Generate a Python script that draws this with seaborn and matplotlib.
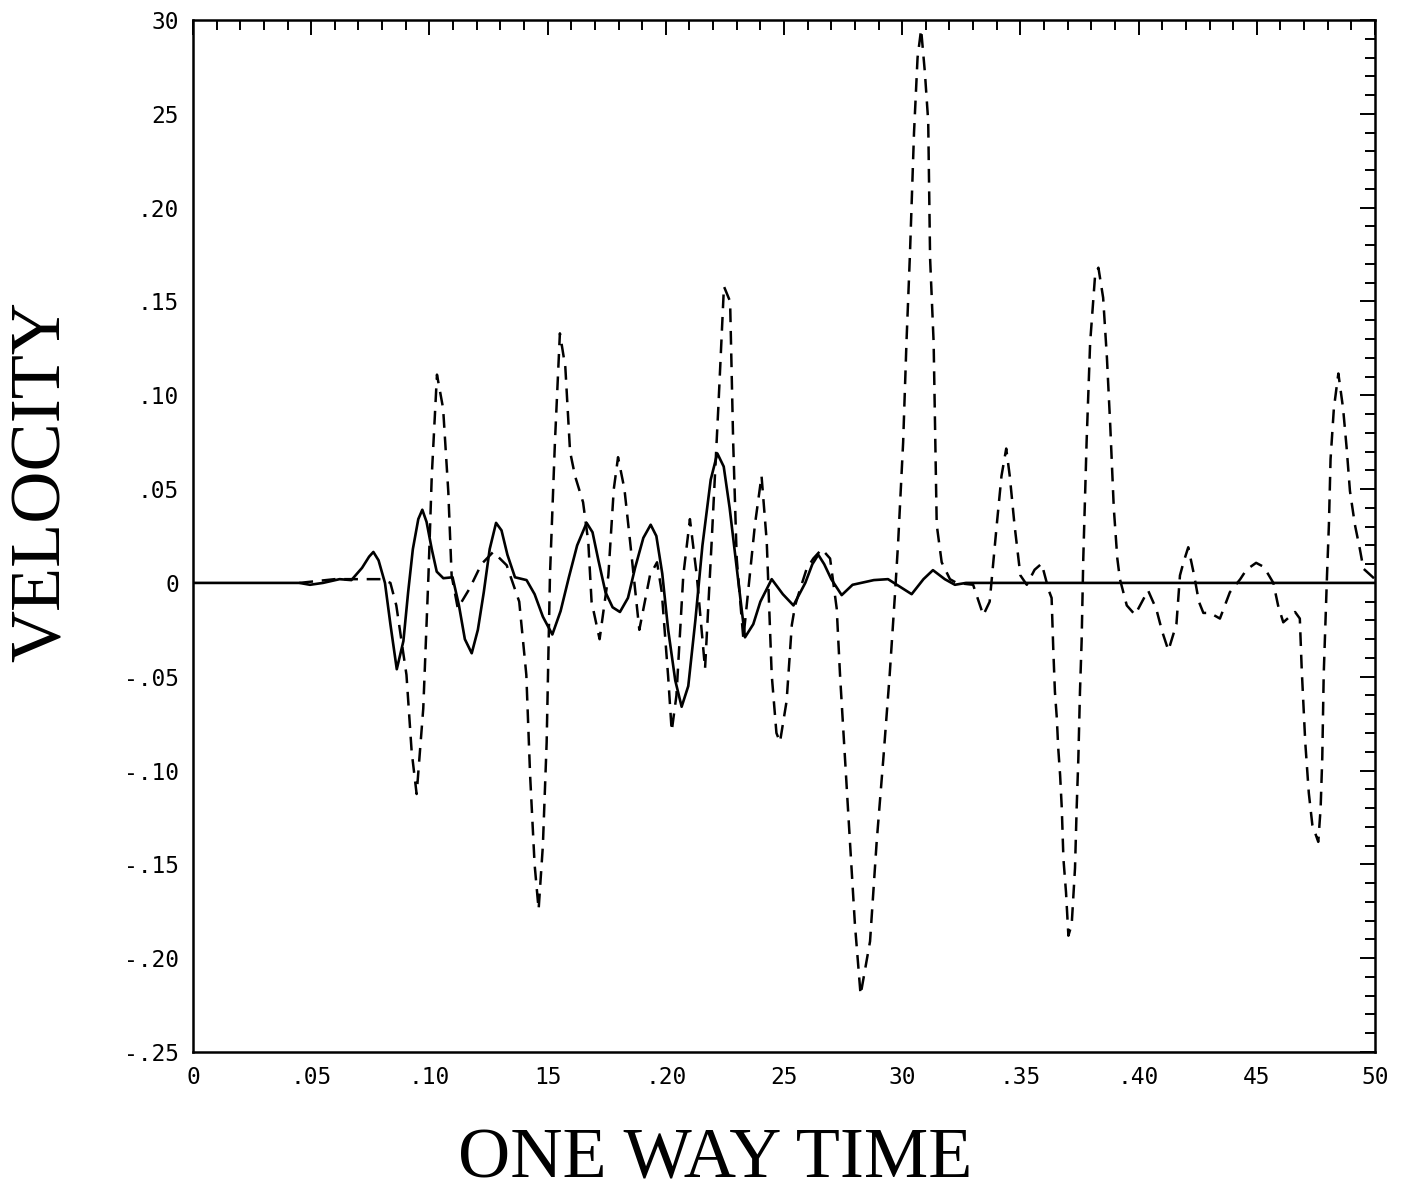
import numpy as np
import pandas as pd
import matplotlib
matplotlib.use("Agg")
import matplotlib.pyplot as plt
from matplotlib.ticker import FixedLocator, MultipleLocator
import seaborn as sns

# ---- data ----
solid_t = [0.0, 0.045, 0.0495, 0.055, 0.062, 0.067, 0.0715, 0.0745, 0.0763, 0.0785,
           0.0812, 0.0835, 0.0862, 0.0890, 0.0910, 0.0930, 0.0953, 0.0970, 0.0988, 0.1010,
           0.1031, 0.1059, 0.1098, 0.1125, 0.1150, 0.1179, 0.1205, 0.1230, 0.1255, 0.1282,
           0.1305, 0.1330, 0.1362, 0.1411, 0.1445, 0.1480, 0.1520, 0.1555, 0.1590, 0.1625,
           0.1665, 0.1690, 0.1715, 0.1745, 0.1775, 0.1806, 0.1840, 0.1870, 0.1905, 0.1936,
           0.1960, 0.1985, 0.2010, 0.2040, 0.2067, 0.2095, 0.2125, 0.2155, 0.2190, 0.2218,
           0.2245, 0.2270, 0.2300, 0.2335, 0.2370, 0.2400, 0.2448, 0.2495, 0.2540, 0.2590,
           0.2620, 0.2645, 0.2670, 0.2700, 0.2744, 0.2790, 0.2880, 0.2940, 0.2990, 0.3040,
           0.3090, 0.3130, 0.3180, 0.3223, 0.3270, 0.5]
solid_v = [0.0, 0.0, -0.001, 0.0, 0.002, 0.0015, 0.008, 0.014, 0.0165, 0.012,
           0.000, -0.022, -0.046, -0.031, -0.005, 0.018, 0.034, 0.039, 0.0325, 0.018,
           0.006, 0.0025, 0.003, -0.012, -0.030, -0.0375, -0.025, -0.005, 0.018, 0.032,
           0.028, 0.015, 0.003, 0.0015, -0.006, -0.018, -0.0275, -0.015, 0.003, 0.020,
           0.032, 0.027, 0.012, -0.005, -0.013, -0.0155, -0.008, 0.008, 0.024, 0.031,
           0.025, 0.005, -0.025, -0.052, -0.066, -0.055, -0.020, 0.020, 0.055, 0.069,
           0.062, 0.040, 0.008, -0.029, -0.022, -0.010, 0.002, -0.006, -0.012, 0.000,
           0.010, 0.015, 0.010, 0.002, -0.0065, -0.001, 0.0015, 0.002, -0.002, -0.006,
           0.002, 0.0068, 0.002, -0.001, 0.000, 0.0]

dashed_t = [0.045, 0.060, 0.080, 0.0835, 0.0860, 0.0903, 0.0925, 0.0946, 0.0974, 0.0996,
            0.1010, 0.1032, 0.1058, 0.1080, 0.1094, 0.1120, 0.1170, 0.1220, 0.1270, 0.1327,
            0.1380, 0.1410, 0.1426, 0.1445, 0.1462, 0.1480, 0.1496, 0.1510, 0.1531, 0.1552,
            0.1575, 0.1595, 0.1616, 0.1650, 0.1672, 0.1686, 0.1720, 0.1757, 0.1780, 0.1798,
            0.1825, 0.1849, 0.1888, 0.1933, 0.1963, 0.1983, 0.2010, 0.2025, 0.2045, 0.2074,
            0.2102, 0.2131, 0.2166, 0.2194, 0.2222, 0.2246, 0.2272, 0.2285, 0.2300, 0.2328,
            0.2377, 0.2405, 0.2427, 0.2448, 0.2468, 0.2483, 0.2511, 0.2533, 0.2547, 0.2564,
            0.2596, 0.2624, 0.2660, 0.2695, 0.2723, 0.2737, 0.2758, 0.2779, 0.2800, 0.2824,
            0.2864, 0.2892, 0.2920, 0.2947, 0.2970, 0.2983, 0.3004, 0.3018, 0.3033, 0.3050,
            0.3065, 0.3080, 0.3096, 0.3110, 0.3118, 0.3133, 0.3140, 0.3146, 0.3167, 0.3202,
            0.3230, 0.3300, 0.3343, 0.3370, 0.3400, 0.3420, 0.3440, 0.3455, 0.3475, 0.3500,
            0.3527, 0.3560, 0.3590, 0.3620, 0.3632, 0.3639, 0.3646, 0.3654, 0.3660, 0.3668,
            0.3675, 0.3682, 0.3693, 0.3703, 0.3717, 0.3731, 0.3738, 0.3745, 0.3752, 0.3759,
            0.3766, 0.3780, 0.3795, 0.3816, 0.3830, 0.3850, 0.3866, 0.3880, 0.3895, 0.3910,
            0.3921, 0.3950, 0.3985, 0.4040, 0.4075, 0.4100, 0.4126, 0.4160, 0.4175, 0.4190,
            0.4210, 0.4235, 0.4255, 0.4274, 0.4302, 0.4344, 0.4386, 0.4430, 0.4456, 0.4497,
            0.4530, 0.4570, 0.4590, 0.4612, 0.4662, 0.4682, 0.4690, 0.4705, 0.4720, 0.4735,
            0.4760, 0.4770, 0.4777, 0.4783, 0.4790, 0.4797, 0.4805, 0.4812, 0.4826, 0.4845,
            0.4865, 0.4880, 0.4894, 0.4915, 0.4936, 0.4951, 0.5000]
dashed_v = [0.000, 0.002, 0.002, 0.000, -0.012, -0.049, -0.090, -0.1125, -0.067, 0.004,
            0.057, 0.111, 0.093, 0.0485, 0.004, -0.0135, -0.003, 0.010, 0.0165, 0.0094,
            -0.010, -0.049, -0.1025, -0.150, -0.174, -0.140, -0.085, 0.004, 0.075, 0.133,
            0.115, 0.070, 0.057, 0.043, 0.022, -0.010, -0.030, 0.004, 0.050, 0.067,
            0.050, 0.022, -0.025, 0.004, 0.011, -0.005, -0.050, -0.079, -0.060, 0.004,
            0.034, 0.004, -0.0457, 0.022, 0.093, 0.158, 0.150, 0.075, 0.013, -0.0297,
            0.031, 0.057, 0.022, -0.049, -0.080, -0.0848, -0.063, -0.0225, -0.012, -0.005,
            0.0076, 0.013, 0.018, 0.013, -0.0137, -0.049, -0.094, -0.138, -0.182, -0.2195,
            -0.191, -0.138, -0.094, -0.049, -0.005, 0.022, 0.075, 0.128, 0.176, 0.240,
            0.280, 0.295, 0.272, 0.246, 0.173, 0.128, 0.075, 0.031, 0.011, 0.002,
            0.000, -0.001, -0.0172, -0.010, 0.031, 0.057, 0.0716, 0.057, 0.031, 0.004,
            -0.001, 0.007, 0.0103, -0.004, -0.008, -0.035, -0.058, -0.072, -0.088, -0.1025,
            -0.120, -0.147, -0.165, -0.188, -0.182, -0.152, -0.120, -0.094, -0.058, -0.031,
            0.013, 0.075, 0.128, 0.164, 0.168, 0.152, 0.120, 0.084, 0.040, 0.013,
            0.002, -0.012, -0.017, -0.004, -0.014, -0.026, -0.036, -0.022, 0.004, 0.011,
            0.019, 0.004, -0.010, -0.016, -0.016, -0.019, -0.005, 0.002, 0.007, 0.0107,
            0.0085, 0.000, -0.012, -0.021, -0.0155, -0.019, -0.046, -0.085, -0.112, -0.129,
            -0.138, -0.120, -0.093, -0.049, -0.022, 0.004, 0.031, 0.066, 0.093, 0.1116,
            0.093, 0.072, 0.049, 0.031, 0.018, 0.0076, 0.002]

x_ticks = [0.0, 0.05, 0.10, 0.15, 0.20, 0.25, 0.30, 0.35, 0.40, 0.45, 0.50]
x_tick_labels = ["0", ".05", ".10", "15", ".20", "25", "30", ".35", ".40", "45", "50"]
y_ticks = [-0.25, -0.20, -0.15, -0.10, -0.05, 0.0, 0.05, 0.10, 0.15, 0.20, 0.25, 0.30]
y_tick_labels = ["-.25", "-.20", "-.15", "-.10", "-.05", "0", ".05", ".10", ".15", ".20", "25", "30"]
x_title = "ONE WAY TIME"
y_title = "VELOCITY"

# ---- drawing ----
sns.set_style("white")
plt.rcParams["font.family"] = ["DejaVu Sans Mono", "DejaVu Sans"]

fig = plt.figure(figsize=(14.01, 11.94), dpi=100)
ax = fig.add_axes([193 / 1401, 1 - 1052 / 1194, (1375 - 193) / 1401, (1052 - 20) / 1194])

solid_df = pd.DataFrame({"t": solid_t, "v": solid_v})
dashed_df = pd.DataFrame({"t": dashed_t, "v": dashed_v})

sns.lineplot(data=solid_df, x="t", y="v", ax=ax, color="black", linewidth=1.9,
             estimator=None, sort=False)
sns.lineplot(data=dashed_df, x="t", y="v", ax=ax, color="black", linewidth=1.8,
             estimator=None, sort=False)
ax.lines[-1].set_dashes((5.5, 3.5))

ax.set_xlim(0, 0.5)
ax.set_ylim(-0.25, 0.30)
ax.set_xlabel("")
ax.set_ylabel("")

ax.xaxis.set_major_locator(FixedLocator(x_ticks))
ax.yaxis.set_major_locator(FixedLocator(y_ticks))
ax.set_xticklabels(x_tick_labels)
ax.set_yticklabels(y_tick_labels)
ax.xaxis.set_minor_locator(MultipleLocator(0.01))
ax.yaxis.set_minor_locator(MultipleLocator(0.01))

ax.tick_params(which="both", direction="in", top=True, right=True, color="black",
               width=1.4)
ax.tick_params(which="major", length=11, labelsize=16.5, pad=10, labelcolor="black")
ax.tick_params(which="minor", length=7)

for s in ax.spines.values():
    s.set_visible(True)
    s.set_color("black")
    s.set_linewidth(1.8)

fig.text(715 / 1401, 1 - 1160 / 1194, x_title, family="Liberation Serif", fontsize=52,
         ha="center", va="center", color="black")
fig.text(42 / 1401, 1 - 482 / 1194, y_title, family="Liberation Serif", fontsize=52,
         ha="center", va="center", rotation=90, color="black")

fig.savefig("out.png", dpi=100, facecolor="white")
